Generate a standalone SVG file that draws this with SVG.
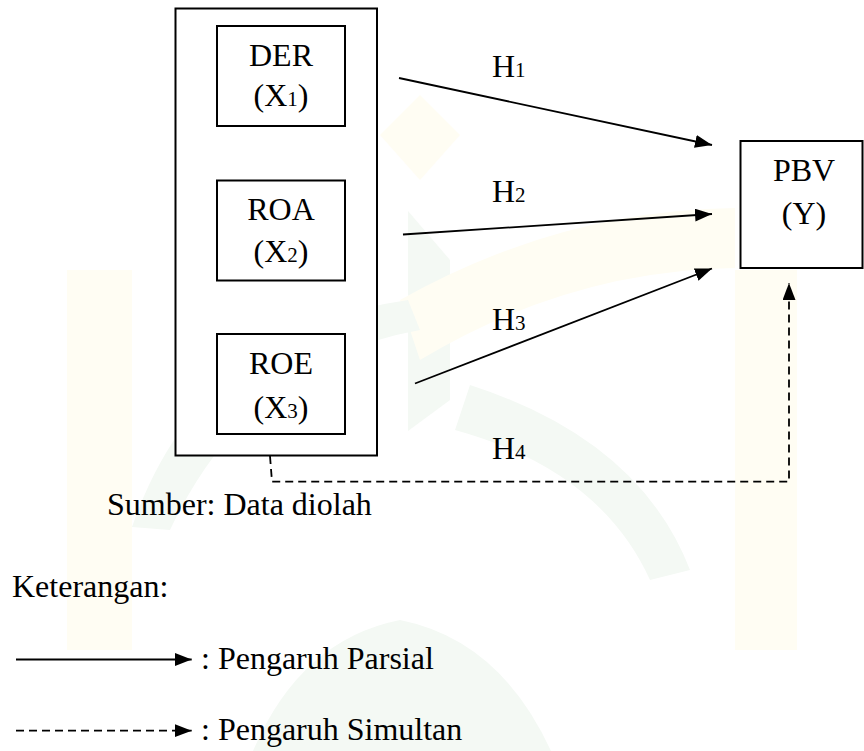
<svg xmlns="http://www.w3.org/2000/svg" width="864" height="751" viewBox="0 0 864 751">
<defs>
<style>
.t{font-family:"Liberation Serif","Times New Roman",serif;font-size:32px;fill:#000}
.s{font-size:21px}
.box{fill:#fff;stroke:#000;stroke-width:2}
.ln{fill:none;stroke:#000;stroke-width:1.8}
.dash{fill:none;stroke:#000;stroke-width:1.8;stroke-dasharray:8 5}
.wy{fill:#fffdf3}
.wg{fill:#f4f9f4}
</style>
<marker id="ah" markerUnits="userSpaceOnUse" markerWidth="18" markerHeight="14" refX="17" refY="6.5" orient="auto">
<path d="M0,0 L17,6.5 L0,13 z" fill="#000"/>
</marker>
</defs>
<rect width="864" height="751" fill="#fff"/>
<g id="watermark">
<path class="wy" d="M67,270 H132 V650 H67 Z"/>
<path class="wy" d="M735,270 H797 V650 H735 Z"/>
<path class="wy" d="M420,95 L460,135 L420,180 L380,135 Z"/>
<path class="wg" d="M408,211 L450,260 L450,400 L408,431 Z"/>
<path class="wy" d="M400,300 Q560,210 735,208 L735,268 Q570,270 420,360 Z"/>
<path class="wg" d="M132,527 Q200,330 408,300 L420,330 Q250,360 170,530 Z"/>
<path class="wg" d="M470,385 Q640,440 690,570 L650,580 Q600,470 455,430 Z"/>
<path class="wg" d="M253,751 Q300,640 400,620 Q500,640 551,751 Z"/>
</g>
<g id="group-x">
<rect class="box" x="175.5" y="8.5" width="201.5" height="447"/>
</g>
<g id="der">
<rect class="box" x="217" y="26" width="128" height="100"/>
<text class="t" x="281" y="66" text-anchor="middle">DER</text>
<text class="t" x="281" y="106" text-anchor="middle">(X<tspan class="s">1</tspan>)</text>
</g>
<g id="roa">
<rect class="box" x="217" y="180.5" width="128" height="100"/>
<text class="t" x="281" y="220" text-anchor="middle">ROA</text>
<text class="t" x="281" y="262" text-anchor="middle">(X<tspan class="s">2</tspan>)</text>
</g>
<g id="roe">
<rect class="box" x="217" y="334" width="128" height="100"/>
<text class="t" x="281" y="374" text-anchor="middle">ROE</text>
<text class="t" x="281" y="418" text-anchor="middle">(X<tspan class="s">3</tspan>)</text>
</g>
<g id="pbv">
<rect class="box" x="740.5" y="141" width="122" height="127"/>
<text class="t" x="804" y="181" text-anchor="middle">PBV</text>
<text class="t" x="804" y="224" text-anchor="middle">(Y)</text>
</g>
<g id="connectors">
<line class="ln" x1="399" y1="78" x2="712" y2="145" marker-end="url(#ah)"/>
<line class="ln" x1="403" y1="234.5" x2="712" y2="214" marker-end="url(#ah)"/>
<line class="ln" x1="415" y1="383.5" x2="712" y2="268.5" marker-end="url(#ah)"/>
<path class="dash" d="M270,456 L272,481.7 L789,481.7 L789,283" marker-end="url(#ah)"/>
</g>
<g id="labels">
<text class="t" x="492" y="77">H<tspan class="s">1</tspan></text>
<text class="t" x="492" y="202">H<tspan class="s">2</tspan></text>
<text class="t" x="492" y="330">H<tspan class="s">3</tspan></text>
<text class="t" x="492" y="459">H<tspan class="s">4</tspan></text>
<text class="t" x="107" y="515">Sumber: Data diolah</text>
<text class="t" x="12" y="597">Keterangan:</text>
</g>
<g id="legend">
<line class="ln" x1="16" y1="659.5" x2="191.7" y2="659.5" marker-end="url(#ah)"/>
<text class="t" x="201" y="669">: Pengaruh Parsial</text>
<line class="dash" x1="16" y1="730.7" x2="191.7" y2="730.7" marker-end="url(#ah)"/>
<text class="t" x="201" y="740">: Pengaruh Simultan</text>
</g>
</svg>
